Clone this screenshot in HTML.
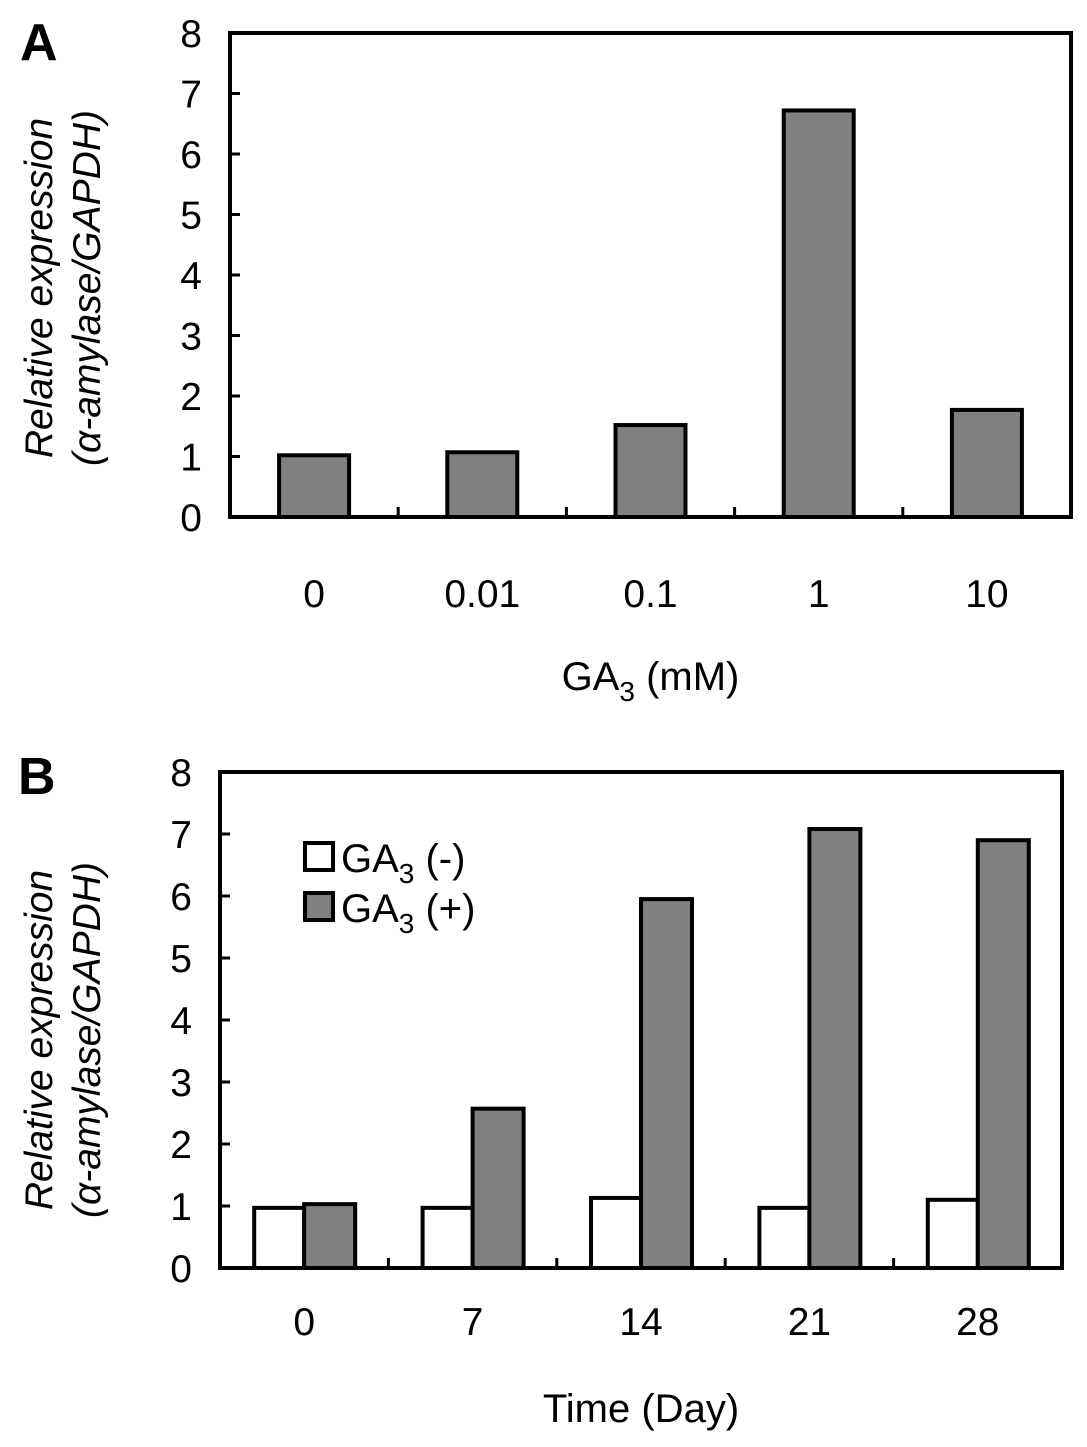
<!DOCTYPE html>
<html><head><meta charset="utf-8"><style>
html,body{margin:0;padding:0;background:#fff}
svg{display:block}
text{font-family:"Liberation Sans",Arial,sans-serif;fill:#000}
</style></head><body>
<svg id="fig" width="1087" height="1447" viewBox="0 0 1087 1447">
<text x="20" y="60" font-size="52" font-weight="bold">A</text>
<text x="18" y="794" font-size="52" font-weight="bold">B</text>
<g id="chartA"></g>
<g id="chartB"></g>
</svg>
<script>
const catsA = ["0","0.01","0.1","1","10"];
const valsA = [1.02, 1.07, 1.52, 6.72, 1.77];
const catsB = ["0","7","14","21","28"];
const valsBminus = [0.97, 0.97, 1.13, 0.97, 1.1];
const valsBplus = [1.03, 2.57, 5.95, 7.08, 6.9];
const yTicks = [0,1,2,3,4,5,6,7,8];

const NS = "http://www.w3.org/2000/svg";
function mk(parent, tag, attrs){const e=document.createElementNS(NS,tag);for(const k in attrs)e.setAttribute(k,attrs[k]);parent.appendChild(e);return e;}

function axes(g, L, R, T, B, n, tickRightX, titleY, xlabY, xTitleY, xTitle, cats){
  const yS = v => B - (B-T)*v/8;
  const cw = (R-L)/n;
  const frame = mk(g,'rect',{x:L,y:T,width:R-L,height:B-T,fill:'none',stroke:'#000','stroke-width':4});
  
  
  yTicks.forEach(v=>{
    const y=yS(v);
    if(v>0&&v<8){const t=mk(g,'line',{x1:L,x2:L+10,y1:y,y2:y,stroke:'#000','stroke-width':3});
      
      }
    const tx=mk(g,'text',{x:tickRightX,y:y+14,'font-size':39,'text-anchor':'end'});
    tx.textContent=v;
    
    
  });
  for(let i=1;i<n;i++){const x=L+cw*i;
    const t=mk(g,'line',{x1:x,x2:x,y1:B,y2:B-10,stroke:'#000','stroke-width':3});
    
    }
  cats.forEach((c,i)=>{const t=mk(g,'text',{x:L+cw*(i+0.5),y:xlabY,'font-size':39,'text-anchor':'middle'});
    t.textContent=c;
    
    });
  const yt=mk(g,'text',{transform:`translate(52,${titleY}) rotate(-90)`,'font-size':39,'text-anchor':'middle','font-style':'italic'});
  yt.textContent='Relative expression';
  
  
  const yt2=mk(g,'text',{transform:`translate(100,${titleY}) rotate(-90)`,'font-size':39,'text-anchor':'middle','font-style':'italic'});
  yt2.textContent='(α-amylase/GAPDH)';
  
  
  const xt=mk(g,'text',{x:(L+R)/2,y:xTitleY,'font-size':40,'text-anchor':'middle'});
  
  
  xt.innerHTML=xTitle;
  return {yS,cw};
}

// Chart A
(function(){
  const g=document.getElementById('chartA');
  const L=230,R=1071,T=33,B=517;
  const {yS,cw}=axes(g,L,R,T,B,5,202,288,607,690,'GA<tspan font-size="28" dy="11">3</tspan><tspan dy="-11"> (mM)</tspan>',catsA);
  valsA.forEach((v,i)=>{const cx=L+cw*(i+0.5);
    const r=mk(g,'rect',{x:cx-35,y:yS(v),width:70,height:B-yS(v),fill:'#808080',stroke:'#000','stroke-width':4});
    
    });
})();

// Chart B
(function(){
  const g=document.getElementById('chartB');
  const L=220,R=1062,T=772,B=1268;
  const {yS,cw}=axes(g,L,R,T,B,5,192,1040,1335,1422,'Time (Day)',catsB);
  catsB.forEach((c,i)=>{const cx=L+cw*(i+0.5);
    const w=mk(g,'rect',{x:cx-50,y:yS(valsBminus[i]),width:50,height:B-yS(valsBminus[i]),fill:'#fff',stroke:'#000','stroke-width':4});
    
    
    const p=mk(g,'rect',{x:cx,y:yS(valsBplus[i]),width:51,height:B-yS(valsBplus[i]),fill:'#808080',stroke:'#000','stroke-width':4});
    
    });
  const l1=mk(g,'rect',{x:305,y:843,width:28,height:27,fill:'#fff',stroke:'#000','stroke-width':4});
  
  
  const l2=mk(g,'rect',{x:305,y:893,width:28,height:27,fill:'#808080',stroke:'#000','stroke-width':4});
  
  
  const t1=mk(g,'text',{x:341,y:872,'font-size':40});
  t1.innerHTML='GA<tspan font-size="28" dy="11">3</tspan><tspan dy="-11"> (-)</tspan>';
  
  
  const t2=mk(g,'text',{x:341,y:922,'font-size':40});
  t2.innerHTML='GA<tspan font-size="28" dy="11">3</tspan><tspan dy="-11"> (+)</tspan>';
  
  
})();
</script>
</body></html>
